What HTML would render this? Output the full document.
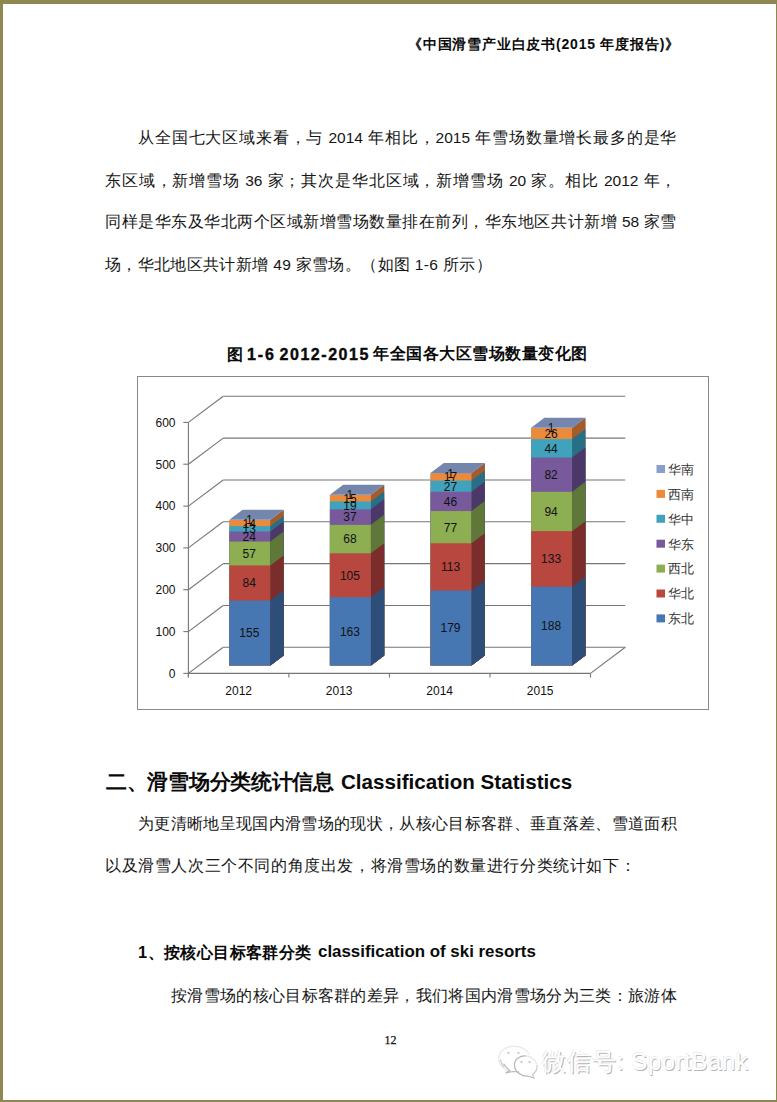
<!DOCTYPE html>
<html><head><meta charset="utf-8">
<style>
html,body{margin:0;padding:0;}
body{width:777px;height:1102px;position:relative;overflow:hidden;background:#fff;font-family:"Liberation Sans",sans-serif;color:#151515;}
.b{position:absolute;background:#8e8850;}
.l{position:absolute;white-space:nowrap;line-height:1;}
.j{text-align:justify;text-align-last:justify;}
.p{font-size:15.5px;}
.bd{font-weight:bold;color:#0a0a0a;}
svg{position:absolute;left:0;top:0;}
</style></head><body>
<svg width="777" height="1102" viewBox="0 0 777 1102"><rect x="137.5" y="376.5" width="571" height="333" fill="#fff" stroke="#8a8a8a" stroke-width="1"/><g stroke="#767676" stroke-width="1.1" fill="none"><line x1="223.2" y1="647.3" x2="625.3" y2="647.3"/><line x1="188.4" y1="673.4" x2="223.2" y2="647.3"/><line x1="183.3" y1="673.4" x2="188.4" y2="673.4"/><line x1="223.2" y1="605.5" x2="625.3" y2="605.5"/><line x1="188.4" y1="631.6" x2="223.2" y2="605.5"/><line x1="183.3" y1="631.6" x2="188.4" y2="631.6"/><line x1="223.2" y1="563.6" x2="625.3" y2="563.6"/><line x1="188.4" y1="589.7" x2="223.2" y2="563.6"/><line x1="183.3" y1="589.7" x2="188.4" y2="589.7"/><line x1="223.2" y1="521.8" x2="625.3" y2="521.8"/><line x1="188.4" y1="547.9" x2="223.2" y2="521.8"/><line x1="183.3" y1="547.9" x2="188.4" y2="547.9"/><line x1="223.2" y1="480.0" x2="625.3" y2="480.0"/><line x1="188.4" y1="506.1" x2="223.2" y2="480.0"/><line x1="183.3" y1="506.1" x2="188.4" y2="506.1"/><line x1="223.2" y1="438.1" x2="625.3" y2="438.1"/><line x1="188.4" y1="464.2" x2="223.2" y2="438.1"/><line x1="183.3" y1="464.2" x2="188.4" y2="464.2"/><line x1="223.2" y1="396.3" x2="625.3" y2="396.3"/><line x1="188.4" y1="422.4" x2="223.2" y2="396.3"/><line x1="183.3" y1="422.4" x2="188.4" y2="422.4"/><line x1="188.4" y1="673.4" x2="590.5" y2="673.4"/><line x1="590.5" y1="673.4" x2="625.3" y2="647.3"/><line x1="188.4" y1="422.4" x2="188.4" y2="677.4"/><line x1="188.4" y1="673.4" x2="188.4" y2="677.6"/><line x1="288.9" y1="673.4" x2="288.9" y2="677.6"/><line x1="389.5" y1="673.4" x2="389.5" y2="677.6"/><line x1="490.0" y1="673.4" x2="490.0" y2="677.6"/><line x1="590.5" y1="673.4" x2="590.5" y2="677.6"/></g><g><rect x="229.3" y="519.83" width="41" height="145.57" fill="#8A9ECB"/><polygon points="270.3,665.40 283.6,655.40 283.6,509.83 270.3,519.83" fill="#5F6F95"/><rect x="229.3" y="520.25" width="41" height="145.15" fill="#EC8A3C"/><polygon points="270.3,665.40 283.6,655.40 283.6,510.25 270.3,520.25" fill="#A55C2A"/><rect x="229.3" y="526.11" width="41" height="139.29" fill="#40A2BC"/><polygon points="270.3,665.40 283.6,655.40 283.6,516.11 270.3,526.11" fill="#266F86"/><rect x="229.3" y="531.54" width="41" height="133.86" fill="#77599C"/><polygon points="270.3,665.40 283.6,655.40 283.6,521.54 270.3,531.54" fill="#4C3868"/><rect x="229.3" y="541.58" width="41" height="123.82" fill="#8DAE51"/><polygon points="270.3,665.40 283.6,655.40 283.6,531.58 270.3,541.58" fill="#5F7738"/><rect x="229.3" y="565.43" width="41" height="99.97" fill="#B7473F"/><polygon points="270.3,665.40 283.6,655.40 283.6,555.43 270.3,565.43" fill="#7A2D2B"/><rect x="229.3" y="600.56" width="41" height="64.84" fill="#4677B3"/><polygon points="270.3,665.40 283.6,655.40 283.6,590.56 270.3,600.56" fill="#2E4E7A"/><polygon points="229.3,519.83 270.3,519.83 283.6,509.83 242.6,509.83" fill="#7586AD"/><rect x="329.9" y="494.73" width="41" height="170.67" fill="#8A9ECB"/><polygon points="370.9,665.40 384.2,655.40 384.2,484.73 370.9,494.73" fill="#5F6F95"/><rect x="329.9" y="495.15" width="41" height="170.25" fill="#EC8A3C"/><polygon points="370.9,665.40 384.2,655.40 384.2,485.15 370.9,495.15" fill="#A55C2A"/><rect x="329.9" y="501.43" width="41" height="163.97" fill="#40A2BC"/><polygon points="370.9,665.40 384.2,655.40 384.2,491.43 370.9,501.43" fill="#266F86"/><rect x="329.9" y="509.37" width="41" height="156.03" fill="#77599C"/><polygon points="370.9,665.40 384.2,655.40 384.2,499.37 370.9,509.37" fill="#4C3868"/><rect x="329.9" y="524.85" width="41" height="140.55" fill="#8DAE51"/><polygon points="370.9,665.40 384.2,655.40 384.2,514.85 370.9,524.85" fill="#5F7738"/><rect x="329.9" y="553.30" width="41" height="112.10" fill="#B7473F"/><polygon points="370.9,665.40 384.2,655.40 384.2,543.30 370.9,553.30" fill="#7A2D2B"/><rect x="329.9" y="597.22" width="41" height="68.18" fill="#4677B3"/><polygon points="370.9,665.40 384.2,655.40 384.2,587.22 370.9,597.22" fill="#2E4E7A"/><polygon points="329.9,494.73 370.9,494.73 384.2,484.73 343.2,484.73" fill="#7586AD"/><rect x="430.5" y="472.98" width="41" height="192.42" fill="#8A9ECB"/><polygon points="471.5,665.40 484.8,655.40 484.8,462.98 471.5,472.98" fill="#5F6F95"/><rect x="430.5" y="473.40" width="41" height="192.00" fill="#EC8A3C"/><polygon points="471.5,665.40 484.8,655.40 484.8,463.40 471.5,473.40" fill="#A55C2A"/><rect x="430.5" y="480.51" width="41" height="184.89" fill="#40A2BC"/><polygon points="471.5,665.40 484.8,655.40 484.8,470.51 471.5,480.51" fill="#266F86"/><rect x="430.5" y="491.81" width="41" height="173.59" fill="#77599C"/><polygon points="471.5,665.40 484.8,655.40 484.8,481.81 471.5,491.81" fill="#4C3868"/><rect x="430.5" y="511.05" width="41" height="154.35" fill="#8DAE51"/><polygon points="471.5,665.40 484.8,655.40 484.8,501.05 471.5,511.05" fill="#5F7738"/><rect x="430.5" y="543.26" width="41" height="122.14" fill="#B7473F"/><polygon points="471.5,665.40 484.8,655.40 484.8,533.26 471.5,543.26" fill="#7A2D2B"/><rect x="430.5" y="590.52" width="41" height="74.88" fill="#4677B3"/><polygon points="471.5,665.40 484.8,655.40 484.8,580.52 471.5,590.52" fill="#2E4E7A"/><polygon points="430.5,472.98 471.5,472.98 484.8,462.98 443.8,462.98" fill="#7586AD"/><rect x="531.1" y="427.81" width="41" height="237.59" fill="#8A9ECB"/><polygon points="572.1,665.40 585.4,655.40 585.4,417.81 572.1,427.81" fill="#5F6F95"/><rect x="531.1" y="428.22" width="41" height="237.18" fill="#EC8A3C"/><polygon points="572.1,665.40 585.4,655.40 585.4,418.22 572.1,428.22" fill="#A55C2A"/><rect x="531.1" y="439.10" width="41" height="226.30" fill="#40A2BC"/><polygon points="572.1,665.40 585.4,655.40 585.4,429.10 572.1,439.10" fill="#266F86"/><rect x="531.1" y="457.50" width="41" height="207.90" fill="#77599C"/><polygon points="572.1,665.40 585.4,655.40 585.4,447.50 572.1,457.50" fill="#4C3868"/><rect x="531.1" y="491.81" width="41" height="173.59" fill="#8DAE51"/><polygon points="572.1,665.40 585.4,655.40 585.4,481.81 572.1,491.81" fill="#5F7738"/><rect x="531.1" y="531.13" width="41" height="134.27" fill="#B7473F"/><polygon points="572.1,665.40 585.4,655.40 585.4,521.13 572.1,531.13" fill="#7A2D2B"/><rect x="531.1" y="586.76" width="41" height="78.64" fill="#4677B3"/><polygon points="572.1,665.40 585.4,655.40 585.4,576.76 572.1,586.76" fill="#2E4E7A"/><polygon points="531.1,427.81 572.1,427.81 585.4,417.81 544.4,417.81" fill="#7586AD"/></g><g font-family="Liberation Sans, sans-serif" font-size="12" fill="#111" text-anchor="middle"><text x="249.3" y="637.3">155</text><text x="249.3" y="587.3">84</text><text x="249.3" y="557.8">57</text><text x="249.3" y="540.9">24</text><text x="249.3" y="533.1">13</text><text x="249.3" y="527.5">14</text><text x="249.3" y="524.3">1</text><text x="349.9" y="635.6">163</text><text x="349.9" y="579.6">105</text><text x="349.9" y="543.4">68</text><text x="349.9" y="521.4">37</text><text x="349.9" y="509.7">19</text><text x="349.9" y="502.6">15</text><text x="349.9" y="499.2">1</text><text x="450.5" y="632.3">179</text><text x="450.5" y="571.2">113</text><text x="450.5" y="531.5">77</text><text x="450.5" y="505.7">46</text><text x="450.5" y="490.5">27</text><text x="450.5" y="481.3">17</text><text x="450.5" y="477.5">1</text><text x="551.1" y="630.4">188</text><text x="551.1" y="563.2">133</text><text x="551.1" y="515.8">94</text><text x="551.1" y="479.0">82</text><text x="551.1" y="452.6">44</text><text x="551.1" y="438.0">26</text><text x="551.1" y="432.3">1</text></g><g font-family="Liberation Sans, sans-serif" font-size="12" fill="#111"><text x="175.5" y="677.7" text-anchor="end">0</text><text x="175.5" y="635.9" text-anchor="end">100</text><text x="175.5" y="594.0" text-anchor="end">200</text><text x="175.5" y="552.2" text-anchor="end">300</text><text x="175.5" y="510.4" text-anchor="end">400</text><text x="175.5" y="468.6" text-anchor="end">500</text><text x="175.5" y="426.7" text-anchor="end">600</text><text x="238.7" y="694.6" text-anchor="middle">2012</text><text x="339.2" y="694.6" text-anchor="middle">2013</text><text x="439.7" y="694.6" text-anchor="middle">2014</text><text x="540.2" y="694.6" text-anchor="middle">2015</text></g><g font-family="Liberation Serif, serif" font-size="13" fill="#333"><rect x="656.5" y="465.0" width="8.5" height="8" fill="#8A9ECB"/><text x="668" y="473.8">华南</text><rect x="656.5" y="489.9" width="8.5" height="8" fill="#EC8A3C"/><text x="668" y="498.7">西南</text><rect x="656.5" y="514.8" width="8.5" height="8" fill="#40A2BC"/><text x="668" y="523.6">华中</text><rect x="656.5" y="539.7" width="8.5" height="8" fill="#77599C"/><text x="668" y="548.5">华东</text><rect x="656.5" y="564.6" width="8.5" height="8" fill="#8DAE51"/><text x="668" y="573.4">西北</text><rect x="656.5" y="589.5" width="8.5" height="8" fill="#B7473F"/><text x="668" y="598.3">华北</text><rect x="656.5" y="614.4" width="8.5" height="8" fill="#4677B3"/><text x="668" y="623.2">东北</text></g></svg>
<div class="b" style="left:0;top:0;width:777px;height:4px"></div>
<div class="b" style="left:0;top:0;width:3px;height:1102px"></div>
<div class="b" style="left:776px;top:0;width:1px;height:1102px"></div>
<div class="b" style="left:0;top:1100px;width:777px;height:2px"></div>

<div class="l bd" id="hdr" style="left:408px;top:37px;font-size:14px;letter-spacing:0.8px">《中国滑雪产业白皮书(2015 年度报告)》</div>

<div class="l p j" id="p1" style="left:138px;top:130px;width:538.5px;">从全国七大区域来看，与 2014 年相比，2015 年雪场数量增长最多的是华</div>
<div class="l p j" id="p2" style="left:105px;top:173px;width:571.5px;">东区域，新增雪场 36 家；其次是华北区域，新增雪场 20 家。相比 2012 年，</div>
<div class="l p j" id="p3" style="left:105px;top:214px;width:571.5px;">同样是华东及华北两个区域新增雪场数量排在前列，华东地区共计新增 58 家雪</div>
<div class="l p" id="p4" style="left:105px;top:257px;letter-spacing:0.35px">场，华北地区共计新增 49 家雪场。（如图 1-6 所示）</div>

<div class="l bd" style="left:227px;top:346.5px;font-size:16px;">图</div>
<div class="l bd" style="left:247px;top:346.5px;font-size:16px;letter-spacing:1.9px;-webkit-text-stroke:0.4px #0a0a0a">1-6</div>
<div class="l bd" style="left:279.5px;top:346.5px;font-size:16px;letter-spacing:1.55px;-webkit-text-stroke:0.4px #0a0a0a">2012-2015</div>
<div class="l bd" style="left:373px;top:346px;font-size:16px;letter-spacing:0.5px">年全国各大区雪场数量变化图</div>

<div class="l bd" style="left:106px;top:771.5px;font-size:20.6px;letter-spacing:-0.3px">二、滑雪场分类统计信息</div>
<div class="l bd" style="left:341px;top:771.5px;font-size:20.6px;">Classification Statistics</div>

<div class="l p j" id="p5" style="left:138px;top:816px;width:538.5px;">为更清晰地呈现国内滑雪场的现状，从核心目标客群、垂直落差、雪道面积</div>
<div class="l p" id="p6" style="left:105px;top:858px;letter-spacing:0.6px">以及滑雪人次三个不同的角度出发，将滑雪场的数量进行分类统计如下：</div>

<div class="l bd" style="left:138px;top:944px;font-size:16.4px;letter-spacing:0.4px">1、按核心目标客群分类</div>
<div class="l bd" style="left:318px;top:944px;font-size:16.9px;">classification of ski resorts</div>

<div class="l p j" id="p7" style="left:171px;top:988px;width:505.5px;">按滑雪场的核心目标客群的差异，我们将国内滑雪场分为三类：旅游体</div>

<div class="l" id="pg" style="left:384.5px;top:1034px;font-size:12px;font-family:'Liberation Serif',serif;-webkit-text-stroke:0.25px #111;">12</div>

<svg width="777" height="1102" viewBox="0 0 777 1102" style="position:absolute;left:0;top:0">
<g transform="translate(0,-2)" fill="none" stroke-linecap="round">
<path d="M510 1073.5 C500 1070 497 1063 499.5 1057 C502 1050 510 1047.5 517 1048.5 C523 1049.5 527 1052 528.5 1056" stroke="#ececec" stroke-width="1.6"/>
<path d="M504 1066 C505.5 1069.5 507.5 1071 510 1072.5 L505.5 1075 L513 1073.5 L519 1074" stroke="#b9b9b9" stroke-width="1.1"/>
<path d="M500.5 1062 C501 1065 502.5 1067 504 1068.5" stroke="#c4c4c4" stroke-width="1.1"/>
<path d="M526 1058 C520 1057.5 514.5 1061 514.5 1067 C514.5 1074 521 1078.5 528 1078 L534 1080" stroke="#b5b5b5" stroke-width="1.2"/>
<path d="M534 1080 L532.5 1076.5 C536 1074 537.5 1071 537 1067" stroke="#c8c8c8" stroke-width="1.1"/>
<path d="M526 1058 C531 1058.5 535 1061.5 536.5 1065.5" stroke="#e8e8e8" stroke-width="1.4"/>
<ellipse cx="508.5" cy="1055" rx="1.3" ry="1" fill="#c9c9c9" stroke="none"/>
<ellipse cx="518.5" cy="1055" rx="1.3" ry="1" fill="#c9c9c9" stroke="none"/>
<ellipse cx="521.5" cy="1064" rx="1.2" ry="0.9" fill="#c4c4c4" stroke="none"/>
<ellipse cx="529.5" cy="1064" rx="1.2" ry="0.9" fill="#c4c4c4" stroke="none"/>
</g></svg>
<div class="l" id="wm" style="left:542px;top:1049.5px;font-size:24px;color:#fff;text-shadow:-0.6px -0.6px 0 #ececec,0.9px 0.9px 0 #b4b4b4;"><span style="letter-spacing:1px">微信号:</span> <span style="letter-spacing:0.55px">SportBank</span></div>
</body></html>
